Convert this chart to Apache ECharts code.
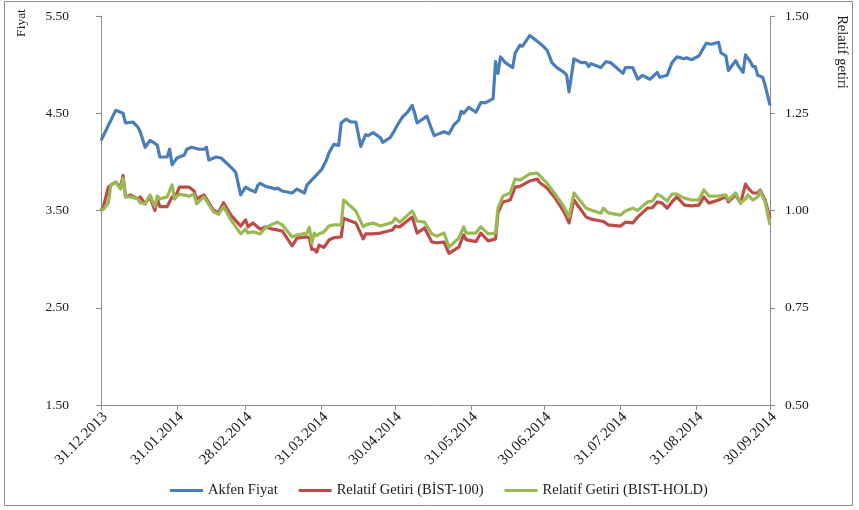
<!DOCTYPE html>
<html>
<head>
<meta charset="utf-8">
<script src="https://cdn.jsdelivr.net/npm/echarts@6/dist/echarts.min.js"></script>
<style>
  html, body { margin: 0; padding: 0; background: #fff; }
  #chart { width: 859px; height: 510px; }
</style>
</head>
<body>
<div id="chart"></div>
<script>
// Data
const tickDates = ['2013-12-31', '2014-01-31', '2014-02-28', '2014-03-31', '2014-04-30',
  '2014-05-31', '2014-06-30', '2014-07-31', '2014-08-31', '2014-09-30'];

const priceDates = [
  '2013-12-31', '2014-01-06', '2014-01-09', '2014-01-10', '2014-01-13', '2014-01-15', '2014-01-16', '2014-01-18',
  '2014-01-20', '2014-01-22', '2014-01-23', '2014-01-24', '2014-01-27', '2014-01-28', '2014-01-29', '2014-01-31',
  '2014-02-03', '2014-02-04', '2014-02-06', '2014-02-09', '2014-02-11', '2014-02-12', '2014-02-13', '2014-02-16',
  '2014-02-18', '2014-02-21', '2014-02-23', '2014-02-24', '2014-02-26', '2014-02-28', '2014-03-02', '2014-03-04',
  '2014-03-05', '2014-03-06', '2014-03-08', '2014-03-11', '2014-03-12', '2014-03-13', '2014-03-15', '2014-03-19',
  '2014-03-21', '2014-03-24', '2014-03-25', '2014-03-28', '2014-03-31', '2014-04-02', '2014-04-03', '2014-04-05',
  '2014-04-07', '2014-04-08', '2014-04-10', '2014-04-12', '2014-04-14', '2014-04-16', '2014-04-18', '2014-04-19',
  '2014-04-21', '2014-04-24', '2014-04-25', '2014-04-28', '2014-04-29', '2014-05-01', '2014-05-03', '2014-05-05',
  '2014-05-07', '2014-05-08', '2014-05-09', '2014-05-13', '2014-05-15', '2014-05-16', '2014-05-20', '2014-05-22',
  '2014-05-24', '2014-05-26', '2014-05-27', '2014-05-28', '2014-05-30', '2014-06-02', '2014-06-04', '2014-06-06',
  '2014-06-09', '2014-06-10', '2014-06-11', '2014-06-12', '2014-06-14', '2014-06-17', '2014-06-18', '2014-06-20',
  '2014-06-21', '2014-06-24', '2014-06-27', '2014-06-29', '2014-07-01', '2014-07-03', '2014-07-05', '2014-07-08',
  '2014-07-09', '2014-07-10', '2014-07-12', '2014-07-15', '2014-07-17', '2014-07-18', '2014-07-19', '2014-07-23',
  '2014-07-25', '2014-07-27', '2014-08-01', '2014-08-02', '2014-08-05', '2014-08-07', '2014-08-09', '2014-08-12',
  '2014-08-15', '2014-08-16', '2014-08-19', '2014-08-21', '2014-08-23', '2014-08-26', '2014-08-27', '2014-08-29',
  '2014-09-01', '2014-09-04', '2014-09-06', '2014-09-09', '2014-09-10', '2014-09-12', '2014-09-13', '2014-09-16',
  '2014-09-17', '2014-09-19', '2014-09-20', '2014-09-22', '2014-09-23', '2014-09-24', '2014-09-25', '2014-09-27',
  '2014-09-28', '2014-09-30'
];
const priceValues = [
  4.22, 4.53, 4.50, 4.40, 4.41, 4.36, 4.31, 4.15,
  4.22, 4.19, 4.17, 4.05, 4.05, 4.13, 3.97, 4.04,
  4.07, 4.13, 4.15, 4.13, 4.13, 4.15, 4.02, 4.05,
  4.04, 3.97, 3.92, 3.89, 3.66, 3.74, 3.71, 3.69,
  3.76, 3.78, 3.75, 3.73, 3.72, 3.73, 3.70, 3.68,
  3.72, 3.68, 3.76, 3.84, 3.92, 4.02, 4.09, 4.18,
  4.17, 4.40, 4.44, 4.41, 4.41, 4.16, 4.28, 4.27,
  4.30, 4.25, 4.20, 4.25, 4.29, 4.38, 4.46, 4.51,
  4.58, 4.50, 4.40, 4.47, 4.33, 4.27, 4.31, 4.29,
  4.38, 4.43, 4.52, 4.50, 4.56, 4.51, 4.61, 4.61,
  4.65, 5.03, 4.91, 5.08, 5.02, 4.97, 5.12, 5.20,
  5.19, 5.30, 5.24, 5.20, 5.15, 5.02, 4.97, 4.92,
  4.89, 4.72, 5.06, 5.02, 5.02, 4.98, 5.01, 4.97,
  5.03, 5.02, 4.91, 4.97, 4.97, 4.85, 4.89, 4.85,
  4.92, 4.87, 4.89, 5.02, 5.08, 5.06, 5.07, 5.05,
  5.09, 5.22, 5.21, 5.23, 5.12, 5.09, 4.94, 5.04,
  4.99, 4.92, 5.10, 5.03, 4.98, 4.98, 4.89, 4.87,
  4.79, 4.58
];

const relDates = [
  '2013-12-31', '2014-01-01', '2014-01-03', '2014-01-04', '2014-01-06', '2014-01-08', '2014-01-09', '2014-01-10',
  '2014-01-12', '2014-01-15', '2014-01-16', '2014-01-18', '2014-01-20', '2014-01-22', '2014-01-23', '2014-01-24',
  '2014-01-27', '2014-01-29', '2014-01-30', '2014-02-01', '2014-02-05', '2014-02-07', '2014-02-08', '2014-02-11',
  '2014-02-15', '2014-02-17', '2014-02-19', '2014-02-22', '2014-02-26', '2014-02-28', '2014-03-01', '2014-03-03',
  '2014-03-06', '2014-03-08', '2014-03-11', '2014-03-13', '2014-03-15', '2014-03-19', '2014-03-21', '2014-03-25',
  '2014-03-26', '2014-03-27', '2014-03-28', '2014-03-29', '2014-03-30', '2014-04-01', '2014-04-03', '2014-04-05',
  '2014-04-08', '2014-04-09', '2014-04-14', '2014-04-17', '2014-04-18', '2014-04-21', '2014-04-24', '2014-04-29',
  '2014-04-30', '2014-05-02', '2014-05-07', '2014-05-09', '2014-05-12', '2014-05-15', '2014-05-17', '2014-05-20',
  '2014-05-22', '2014-05-26', '2014-05-28', '2014-05-29', '2014-06-02', '2014-06-04', '2014-06-07', '2014-06-10',
  '2014-06-11', '2014-06-13', '2014-06-16', '2014-06-18', '2014-06-20', '2014-06-24', '2014-06-27', '2014-06-28',
  '2014-07-01', '2014-07-04', '2014-07-08', '2014-07-10', '2014-07-12', '2014-07-17', '2014-07-19', '2014-07-23',
  '2014-07-24', '2014-07-26', '2014-07-31', '2014-08-02', '2014-08-05', '2014-08-07', '2014-08-11', '2014-08-13',
  '2014-08-15', '2014-08-17', '2014-08-19', '2014-08-21', '2014-08-23', '2014-08-26', '2014-08-29', '2014-09-01',
  '2014-09-03', '2014-09-05', '2014-09-09', '2014-09-12', '2014-09-13', '2014-09-16', '2014-09-18', '2014-09-20',
  '2014-09-21', '2014-09-23', '2014-09-25', '2014-09-26', '2014-09-28', '2014-09-30'
];
const bist100Values = [
  1.000, 1.010, 1.060, 1.065, 1.073, 1.060, 1.090, 1.035,
  1.040, 1.030, 1.035, 1.017, 1.035, 1.000, 1.030, 1.010,
  1.010, 1.035, 1.030, 1.060, 1.060, 1.050, 1.030, 1.040,
  1.000, 0.995, 1.020, 0.988, 0.960, 0.976, 0.958, 0.968,
  0.952, 0.958, 0.952, 0.950, 0.947, 0.909, 0.929, 0.932,
  0.930, 0.900, 0.900, 0.893, 0.911, 0.905, 0.924, 0.930,
  0.932, 0.980, 0.968, 0.927, 0.940, 0.940, 0.942, 0.950,
  0.960, 0.958, 0.983, 0.942, 0.955, 0.919, 0.917, 0.919,
  0.890, 0.906, 0.937, 0.925, 0.920, 0.942, 0.922, 0.927,
  0.994, 1.022, 1.027, 1.060, 1.062, 1.076, 1.081, 1.072,
  1.058, 1.035, 0.996, 0.968, 1.027, 0.983, 0.978, 0.973,
  0.972, 0.963, 0.960, 0.970, 0.968, 0.983, 1.006, 1.007,
  1.022, 1.019, 1.006, 1.022, 1.035, 1.014, 1.012, 1.014,
  1.035, 1.019, 1.027, 1.035, 1.022, 1.040, 1.019, 1.068,
  1.058, 1.045, 1.045, 1.053, 1.027, 0.980
];
const holdValues = [
  1.000, 1.003, 1.020, 1.065, 1.073, 1.055, 1.083, 1.035,
  1.035, 1.030, 1.020, 1.017, 1.040, 1.010, 1.037, 1.030,
  1.035, 1.066, 1.030, 1.042, 1.037, 1.042, 1.017, 1.035,
  0.996, 0.990, 1.010, 0.976, 0.940, 0.952, 0.942, 0.945,
  0.940, 0.955, 0.965, 0.970, 0.963, 0.932, 0.937, 0.942,
  0.957, 0.915, 0.942, 0.935, 0.940, 0.945, 0.960, 0.963,
  0.963, 1.027, 0.999, 0.958, 0.963, 0.968, 0.960, 0.970,
  0.980, 0.970, 0.999, 0.973, 0.970, 0.940, 0.934, 0.942,
  0.906, 0.929, 0.958, 0.942, 0.942, 0.958, 0.940, 0.942,
  1.006, 1.037, 1.045, 1.081, 1.078, 1.094, 1.096, 1.090,
  1.070, 1.045, 1.009, 0.983, 1.045, 1.006, 1.001, 0.993,
  1.006, 0.994, 0.988, 0.999, 1.006, 1.000, 1.022, 1.024,
  1.042, 1.035, 1.024, 1.042, 1.042, 1.032, 1.027, 1.027,
  1.053, 1.037, 1.037, 1.040, 1.027, 1.045, 1.019, 1.030,
  1.040, 1.027, 1.035, 1.050, 1.022, 0.963
];

const seriesNames = ['Akfen Fiyat', 'Relatif Getiri (BİST-100)', 'Relatif Getiri (BIST-HOLD)'];
const seriesColors = ['#4a7ebb', '#be4b48', '#98b954'];

// Helpers
const FONT = 'Liberation Serif';
const dayMs = (s) => { const [y, m, d] = s.split('-').map(Number); return new Date(y, m - 1, d).getTime(); };
const zip = (xs, ys) => xs.map((x, i) => [dayMs(x), ys[i]]);
const pad2 = (n) => (n < 10 ? '0' : '') + n;
const fmtDay = (v) => { const d = new Date(v); return `${pad2(d.getDate())}.${pad2(d.getMonth() + 1)}.${d.getFullYear()}`; };

const axisLineStyle = { color: '#8c8c8c', width: 1 };
const tickValues = tickDates.map(dayMs);

const chart = echarts.init(document.getElementById('chart'), null, { renderer: 'canvas' });
chart.setOption({
  animation: false,
  backgroundColor: '#fff',
  grid: { left: 101, right: 89, top: 16, bottom: 105, containLabel: false },
  xAxis: {
    type: 'value',
    min: tickValues[0],
    max: tickValues[tickValues.length - 1],
    axisLine: { show: true, onZero: false, lineStyle: axisLineStyle },
    axisTick: { show: true, length: 5, lineStyle: axisLineStyle, customValues: tickValues },
    axisLabel: {
      customValues: tickValues, rotate: 45, margin: 14, padding: [0, -6, 0, 0], color: '#1a1a1a',
      fontFamily: FONT, fontSize: 15, formatter: (v) => fmtDay(v), hideOverlap: false
    },
    splitLine: { show: false }
  },
  yAxis: [
    {
      type: 'value', min: 1.5, max: 5.5, interval: 1, position: 'left',
      axisLine: { show: true, lineStyle: axisLineStyle },
      axisTick: { show: true, length: 5, lineStyle: axisLineStyle },
      axisLabel: { margin: 32, color: '#1a1a1a', fontFamily: FONT, fontSize: 13.5, formatter: (v) => v.toFixed(2) },
      splitLine: { show: false }
    },
    {
      type: 'value', min: 0.5, max: 1.5, interval: 0.25, position: 'right',
      axisLine: { show: true, lineStyle: axisLineStyle },
      axisTick: { show: true, length: 5, lineStyle: axisLineStyle },
      axisLabel: { margin: 15, color: '#1a1a1a', fontFamily: FONT, fontSize: 13.5, formatter: (v) => v.toFixed(2) },
      splitLine: { show: false }
    }
  ],
  legend: {
    left: 165, top: 478, itemGap: 21, itemWidth: 33, itemHeight: 3, icon: 'rect',
    textStyle: { fontFamily: FONT, fontSize: 14.5, color: '#1a1a1a' },
    data: seriesNames
  },
  graphic: [
    { type: 'rect', shape: { x: 4.5, y: 1.5, width: 848, height: 504 }, style: { fill: 'none', stroke: '#8c8c8c', lineWidth: 1 }, silent: true },
    { type: 'text', x: 21, y: 23, rotation: Math.PI / 2, style: { text: 'Fiyat', font: `13.5px "${FONT}"`, fill: '#1a1a1a', align: 'center', verticalAlign: 'middle' } },
    { type: 'text', x: 842, y: 52, rotation: -Math.PI / 2, style: { text: 'Relatif getiri', font: `14.5px "${FONT}"`, fill: '#1a1a1a', align: 'center', verticalAlign: 'middle' } }
  ],
  series: [
    {
      name: seriesNames[0], type: 'line', yAxisIndex: 0, data: zip(priceDates, priceValues),
      showSymbol: false, color: seriesColors[0], lineStyle: { width: 3.2, join: 'round' }, z: 3
    },
    {
      name: seriesNames[1], type: 'line', yAxisIndex: 1, data: zip(relDates, bist100Values),
      showSymbol: false, color: seriesColors[1], lineStyle: { width: 3.2, join: 'round' }, z: 2
    },
    {
      name: seriesNames[2], type: 'line', yAxisIndex: 1, data: zip(relDates, holdValues),
      showSymbol: false, color: seriesColors[2], lineStyle: { width: 3.2, join: 'round' }, z: 3
    }
  ]
});
</script>
</body>
</html>
